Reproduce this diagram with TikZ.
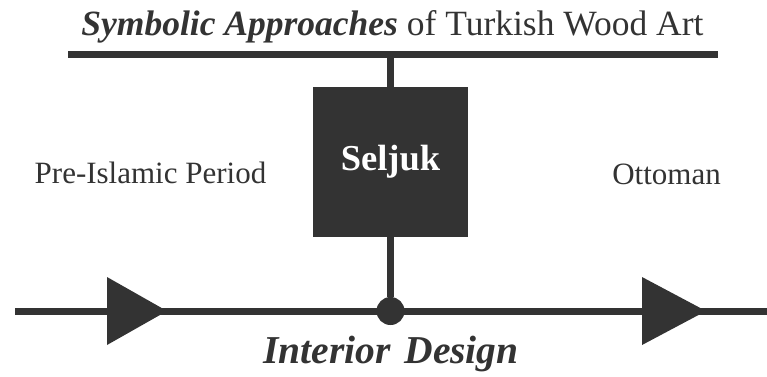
\documentclass[tikz,border=0pt]{standalone}
\usepackage{fontspec}
\setmainfont{Liberation Serif}
\usepackage{tikz}
\usetikzlibrary{arrows.meta,positioning,calc}

\definecolor{wood}{RGB}{51,51,51}

\begin{document}
\begin{tikzpicture}[x=1pt, y=-1pt, >=Latex,
  bar/.style={line width=7pt, color=wood},
  box/.style={fill=wood, text=white, minimum width=155pt, minimum height=150pt, inner sep=0pt,
    font=\fontsize{36.5}{40}\selectfont\bfseries},
  hub/.style={circle, fill=wood, minimum size=28pt, inner sep=0pt},
  period/.style={anchor=base, text=wood, inner sep=0pt, font=\fontsize{31}{36}\selectfont}]
\useasboundingbox (0,0) rectangle (767,376);
\node[anchor=base, text=wood, inner sep=0pt, font=\fontsize{35.5}{40}\selectfont] (title) at (392.5,35)
 {\textbf{\textit{Symbolic Approaches}} of Turkish Wood Art};
\coordinate (barL) at (68,54.5);
\coordinate (barR) at (718,54.5);
\draw[bar] (barL) -- (barR);
\node[box] (seljuk) at (390.5,162) {Seljuk};
\draw[bar] (seljuk.north) -- (seljuk.north |- barL);
\node[hub] (hub) at (390.5,311) {};
\draw[bar] (seljuk.south) -- (hub);
\coordinate (lineL) at (15,311);
\coordinate (lineR) at (767,311);
\draw[bar] (lineL) -- (lineR);
% arrow heads on the time line
\fill[wood] (107,277) -- (167,311) -- (107,345) -- cycle;
\fill[wood] (642,277) -- (706,311) -- (642,345) -- cycle;
\node[period] (pre) at (150.5,183) {Pre-Islamic Period};
\node[period] (ottoman) at (666.5,184) {Ottoman};
\node[anchor=base, text=wood, inner sep=0pt, font=\fontsize{39.5}{44}\selectfont\bfseries\itshape] (interior) at (391,363)
 {Interior\hspace{0.35em}Design};
\end{tikzpicture}
\end{document}
